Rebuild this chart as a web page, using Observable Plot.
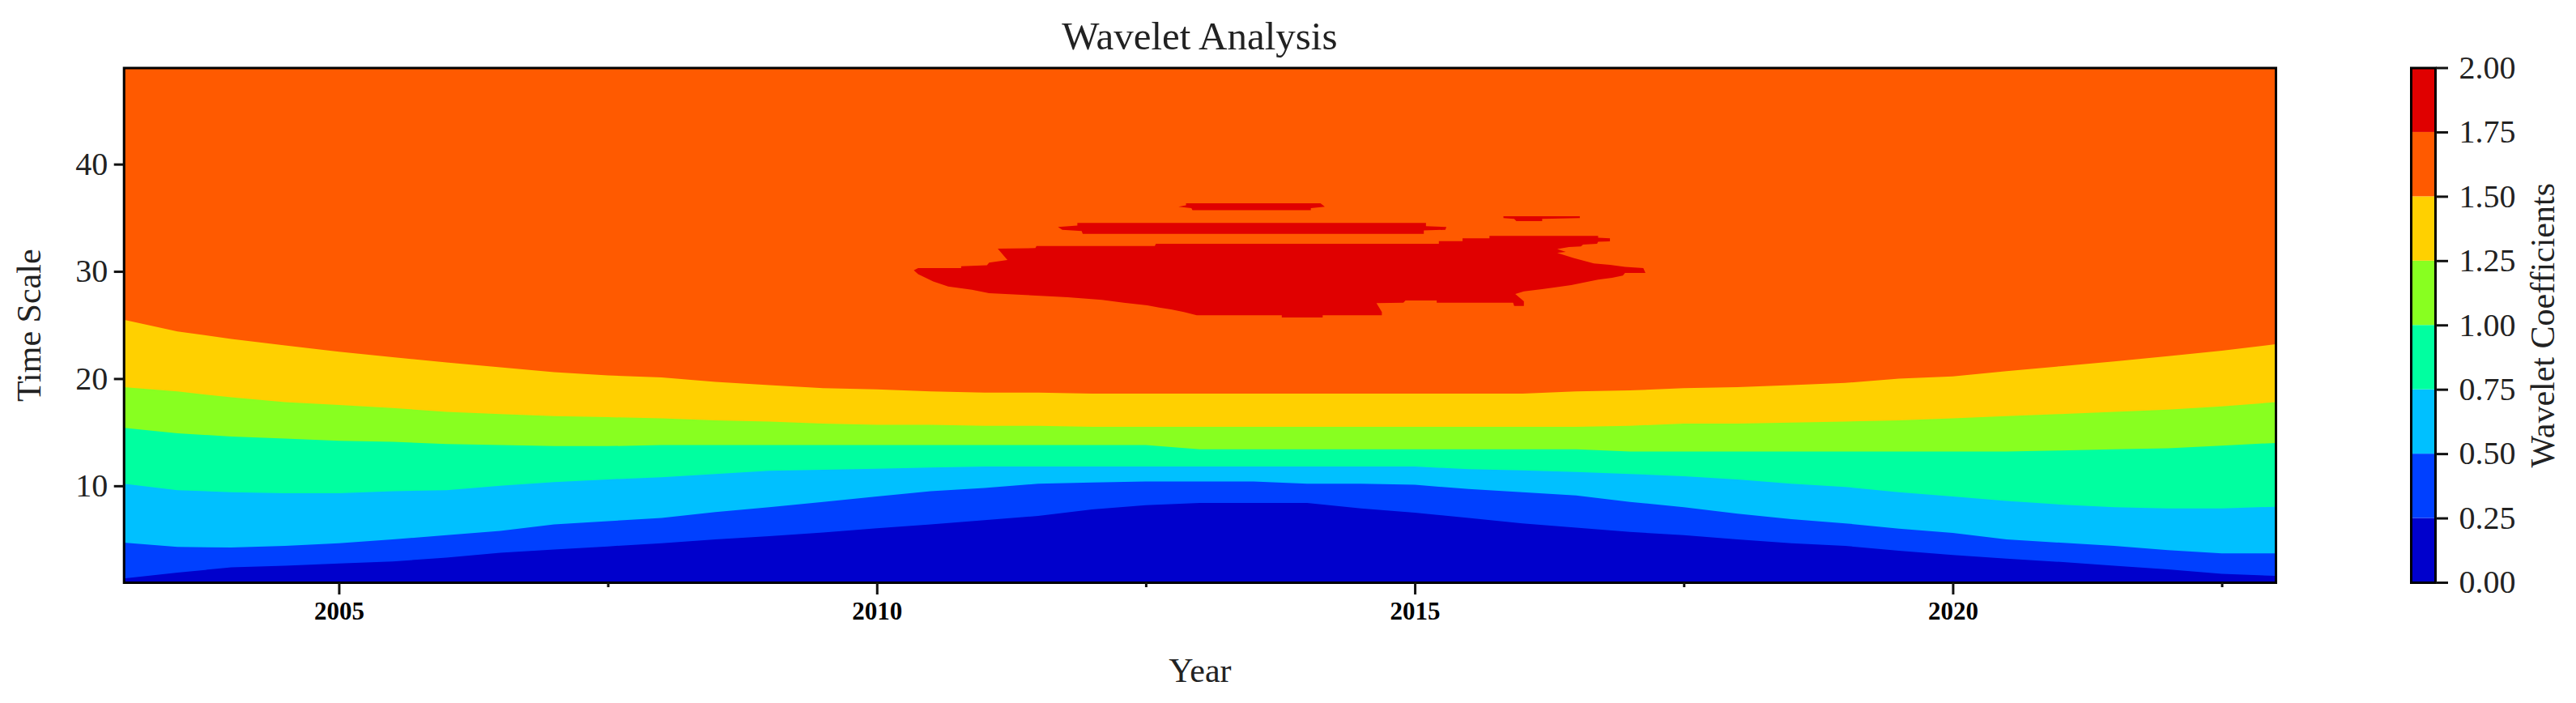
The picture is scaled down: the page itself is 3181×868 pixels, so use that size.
<!DOCTYPE html>
<html>
<head>
<meta charset="utf-8">
<script src="https://cdn.jsdelivr.net/npm/d3@7"></script>
<script src="https://cdn.jsdelivr.net/npm/@observablehq/plot@0.6"></script>
<style>
  html, body { margin: 0; padding: 0; background: #fff; overflow: hidden; }
  #page { position: relative; width: 3181px; height: 868px; }
  #title { position: absolute; left: 152.7px; width: 2657.3px; top: 16px; text-align: center;
           font: 49px "Liberation Serif", serif; color: #222; }
  #main { position: absolute; left: 0; top: 0; }
  #bar { position: absolute; left: 2940px; top: 0; }
  svg { overflow: visible; }
</style>
</head>
<body>
<div id="page">
  <div id="title">Wavelet Analysis</div>
  <div id="main"></div>
  <div id="bar"></div>
</div>
<script>
// half-yearly samples, 2003 to 2023
const years = d3.range(2003, 2023.5, 0.5);

// time scale at which each contour level is crossed
const level025 = [1.35,1.9,2.4,2.55,2.75,2.95,3.3,3.75,4.05,4.35,4.65,5.0,5.3,5.65,6.05,6.4,6.8,7.2,7.8,8.2,8.4,8.4,8.4,7.9,7.5,7.0,6.5,6.1,5.7,5.4,5.0,4.65,4.4,3.95,3.55,3.2,2.9,2.55,2.2,1.8,1.6];
const level050 = [4.7,4.3,4.25,4.4,4.65,5.0,5.4,5.8,6.4,6.7,7.0,7.55,8.0,8.5,9.0,9.5,9.8,10.2,10.3,10.4,10.4,10.4,10.2,10.2,10.1,9.7,9.4,9.1,8.5,8.0,7.4,6.9,6.5,6.0,5.6,5.0,4.7,4.4,4.0,3.7,3.7];
const level075 = [10.2,9.6,9.4,9.3,9.3,9.5,9.6,10.0,10.35,10.6,10.8,11.1,11.4,11.5,11.6,11.7,11.8,11.8,11.8,11.8,11.8,11.8,11.8,11.8,11.8,11.55,11.45,11.3,11.1,10.9,10.6,10.2,9.9,9.4,9.0,8.6,8.25,8.0,7.9,7.9,8.05];
const level100 = [15.4,14.9,14.6,14.4,14.2,14.1,13.9,13.8,13.7,13.7,13.8,13.8,13.8,13.8,13.8,13.8,13.8,13.8,13.8,13.8,13.4,13.4,13.4,13.4,13.4,13.4,13.4,13.4,13.2,13.2,13.2,13.2,13.2,13.2,13.2,13.2,13.3,13.4,13.5,13.75,14.0];
const level125 = [19.2,18.8,18.25,17.8,17.55,17.25,16.9,16.7,16.5,16.4,16.3,16.1,16.0,15.8,15.7,15.7,15.6,15.6,15.5,15.5,15.5,15.5,15.5,15.5,15.5,15.5,15.5,15.5,15.6,15.8,15.8,15.9,16.0,16.1,16.3,16.5,16.7,16.9,17.1,17.4,17.8];
const level150 = [25.5,24.4,23.7,23.1,22.5,22.0,21.5,21.05,20.6,20.3,20.1,19.7,19.4,19.1,19.0,18.8,18.7,18.7,18.6,18.6,18.6,18.6,18.6,18.6,18.6,18.6,18.6,18.8,18.9,19.1,19.2,19.4,19.6,20.0,20.2,20.7,21.15,21.6,22.1,22.6,23.2];

// outlines of the areas above 1.75: [year, time scale]
const peakMain = [[2010.34,30.14],[2010.38,30.35],[2010.78,30.35],[2010.78,30.52],[2011.02,30.60],[2011.04,30.85],[2011.21,31.10],[2011.12,32.16],[2011.47,32.21],[2011.48,32.41],[2012.58,32.41],[2012.59,32.61],[2015.22,32.61],[2015.22,32.86],[2015.44,32.86],[2015.44,33.12],[2015.69,33.12],[2015.69,33.34],[2016.70,33.34],[2016.70,33.17],[2016.81,33.12],[2016.81,32.84],[2016.70,32.79],[2016.69,32.61],[2016.56,32.54],[2016.54,32.36],[2016.43,32.31],[2016.32,32.11],[2016.40,31.86],[2016.32,31.76],[2016.47,31.28],[2016.66,30.77],[2016.81,30.65],[2016.95,30.45],[2017.12,30.35],[2017.14,29.89],[2016.95,29.89],[2016.93,29.64],[2016.83,29.44],[2016.70,29.26],[2016.57,29.01],[2016.45,28.76],[2016.33,28.58],[2016.18,28.38],[2016.01,28.18],[2015.93,27.93],[2016.01,27.25],[2016.01,26.82],[2015.92,26.82],[2015.91,27.12],[2015.20,27.12],[2015.20,27.32],[2014.91,27.32],[2014.89,27.12],[2014.64,27.07],[2014.69,26.24],[2014.69,25.94],[2014.14,25.94],[2014.14,25.74],[2013.76,25.74],[2013.76,25.94],[2012.97,25.94],[2012.85,26.24],[2012.73,26.49],[2012.62,26.67],[2012.51,26.87],[2012.29,27.12],[2012.09,27.37],[2011.77,27.63],[2011.38,27.83],[2011.04,28.00],[2010.88,28.33],[2010.66,28.63],[2010.52,29.09],[2010.38,29.77]];
const peakBand = [[2011.68,34.17],[2011.86,34.30],[2011.86,34.55],[2015.10,34.55],[2015.10,34.25],[2015.29,34.17],[2015.28,33.92],[2015.08,33.85],[2015.08,33.54],[2011.91,33.54],[2011.90,33.80],[2011.72,33.92]];
const peakTop = [[2012.80,36.06],[2012.87,36.19],[2012.87,36.39],[2014.12,36.39],[2014.16,36.06],[2014.03,35.94],[2014.03,35.74],[2012.93,35.74],[2012.92,35.94]];
const peakSmall = [[2015.82,35.18],[2016.53,35.18],[2016.53,35.00],[2016.18,34.93],[2016.18,34.73],[2015.94,34.73],[2015.92,34.93],[2015.82,35.00]];

// colour classes
const thresholds = [0.25,0.5,0.75,1,1.25,1.5,1.75];
const classColors = ["#0000cc","#0040ff","#00c0ff","#00ffa0","#88ff20","#ffd000","#ff5a00","#e00000"];
const barEdges = [0,0.25,0.5,0.75,1,1.25,1.5,1.75,2];

// axes
const yearTicks = [2005,2010,2015,2020];
const yearMinorTicks = [2007.5,2012.5,2017.5,2022.5];
const scaleTicks = [10,20,30,40];
const coefTicks = [0,0.25,0.5,0.75,1,1.25,1.5,1.75,2];

const serif = '"Liberation Serif", serif';
const color = {type: "threshold", domain: thresholds, range: classColors};
const HEIGHT = 868, TOP = 83.5, BOTTOM = 149;

// stacked from the top class down so that neighbouring areas leave no seams
const bands = [
  [1.625, years.map(() => 49)],
  [1.375, level150],
  [1.125, level125],
  [0.875, level100],
  [0.625, level075],
  [0.375, level050],
  [0.125, level025]
];
const bandRows = bands.flatMap(([mid, tops]) => years.map((year, i) => ({year, mid, top: tops[i]})));
const peakRows = [peakMain, peakBand, peakTop, peakSmall].flatMap((outline, id) =>
  outline.map(([year, scale]) => ({id, year, scale, value: 1.875})));

const main = Plot.plot({
  width: 2900, height: HEIGHT,
  marginLeft: 152.7, marginRight: 90, marginTop: TOP, marginBottom: BOTTOM,
  style: {fontFamily: serif, background: "transparent"},
  x: {domain: [2003, 2023]},
  y: {domain: [1, 49]},
  color,
  marks: [
    Plot.areaY(bandRows, {x: "year", y1: () => 1, y2: "top", fill: "mid", z: "mid"}),
    Plot.line(peakRows, {x: "year", y: "scale", z: "id", fill: "value", stroke: "none"}),
    Plot.frame({stroke: "#000", strokeWidth: 3}),
    Plot.axisY({ticks: scaleTicks, tickSize: 12, tickPadding: 8, strokeWidth: 3, fontSize: 40,
      stroke: "#111", fill: "#222", label: "Time Scale", labelAnchor: "center", labelArrow: "none", labelOffset: 133}),
    Plot.axisX({ticks: yearTicks, tickSize: 15, tickPadding: 8, strokeWidth: 3, fontSize: 31, fontWeight: "bold",
      stroke: "#111", fill: "#000", tickFormat: "d", label: "Year", labelAnchor: "center", labelArrow: "none", labelOffset: 122}),
    Plot.axisX({ticks: yearMinorTicks, tickSize: 6, strokeWidth: 3, stroke: "#111", text: null, label: null})
  ]
});
main.querySelectorAll('[aria-label="y-axis label"], [aria-label="x-axis label"]').forEach(g => {
  g.setAttribute("font-size", 42);
  g.setAttribute("font-weight", "normal");
  g.setAttribute("fill", "#222");
});
document.getElementById("main").append(main);

const barRows = classColors.map((_, i) => ({lo: barEdges[i], hi: barEdges[i + 1], mid: (barEdges[i] + barEdges[i + 1]) / 2}));
const bar = Plot.plot({
  width: 241, height: HEIGHT,
  marginLeft: 37, marginRight: 174, marginTop: TOP, marginBottom: BOTTOM,
  style: {fontFamily: serif, background: "transparent"},
  x: {axis: null, domain: [0, 1]},
  y: {domain: [0, 2]},
  color,
  marks: [
    Plot.rect(barRows, {x1: () => 0, x2: () => 1, y1: "lo", y2: "hi", fill: "mid"}),
    Plot.frame({stroke: "#000", strokeWidth: 3}),
    Plot.axisY({anchor: "right", ticks: coefTicks, tickFormat: ".2f", tickSize: 15, tickPadding: 14, strokeWidth: 3,
      fontSize: 40, stroke: "#111", fill: "#222", label: "Wavelet Coefficients", labelAnchor: "center", labelArrow: "none", labelOffset: 146})
  ]
});
bar.querySelectorAll('[aria-label="y-axis label"]').forEach(g => g.setAttribute("font-size", 42));
document.getElementById("bar").append(bar);
</script>
</body>
</html>
